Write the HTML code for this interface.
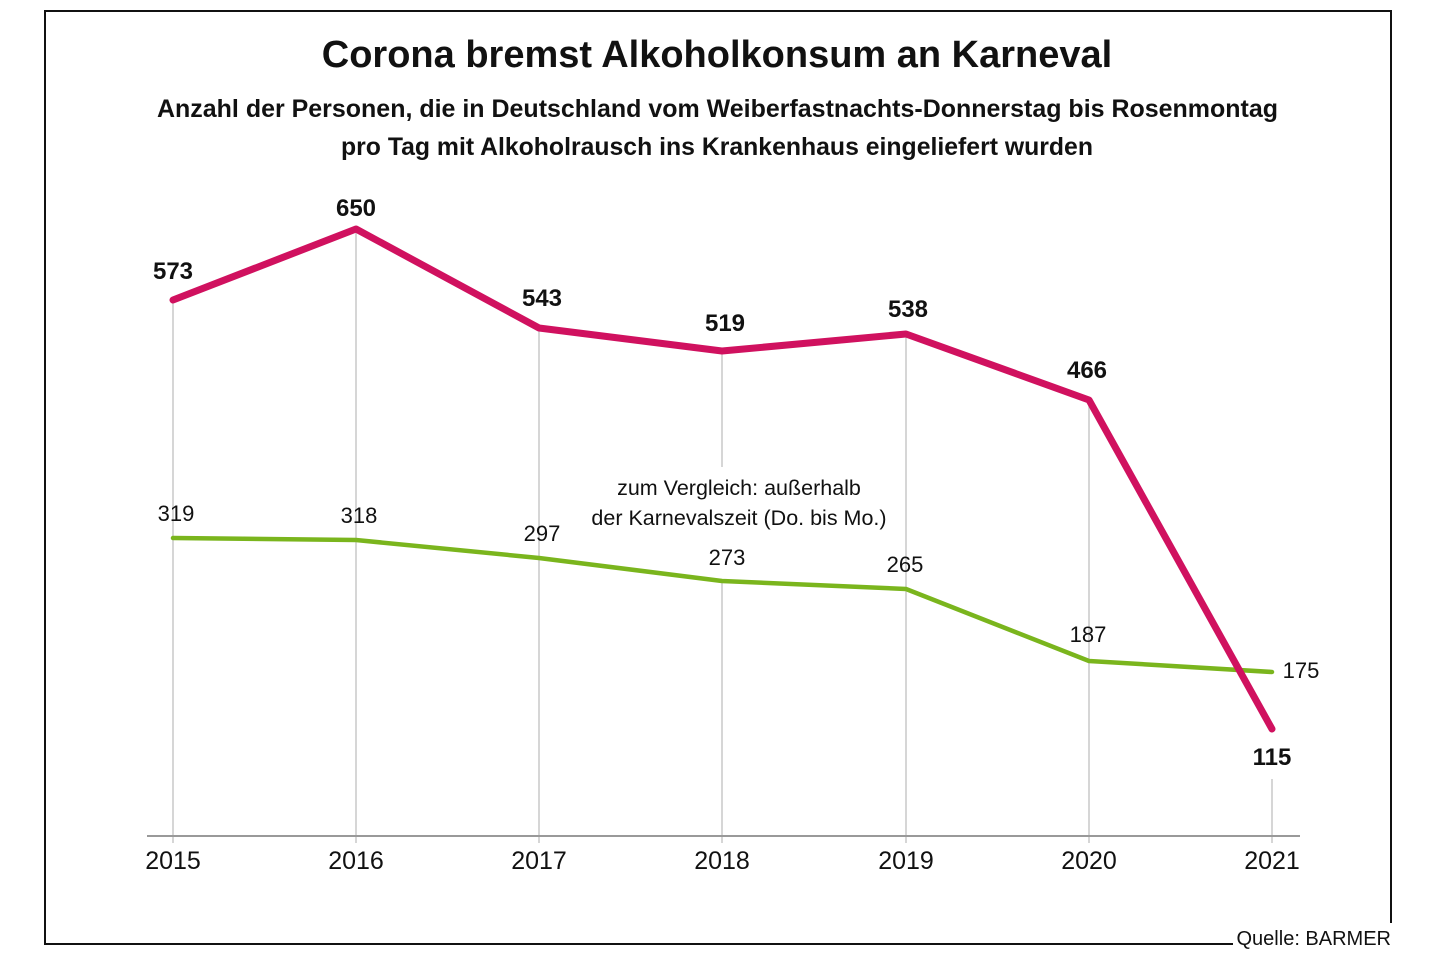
<!DOCTYPE html>
<html><head><meta charset="utf-8"><style>
body{margin:0;background:#fff;width:1440px;height:960px;overflow:hidden}
svg{display:block;font-family:"Liberation Sans",sans-serif}
</style></head><body>
<svg width="1440" height="960" viewBox="0 0 1440 960">
<rect width="1440" height="960" fill="#fff"/>
<path d="M1233 944H45V11H1391V923" fill="none" stroke="#111" stroke-width="2"/>
<text x="1391" y="945" text-anchor="end" font-size="20" fill="#111">Quelle: BARMER</text>
<text x="717" y="67" text-anchor="middle" font-size="38" font-weight="bold" fill="#111">Corona bremst Alkoholkonsum an Karneval</text>
<text x="157" y="117" textLength="1121" lengthAdjust="spacingAndGlyphs" font-size="25" font-weight="bold" fill="#111">Anzahl der Personen, die in Deutschland vom Weiberfastnachts-Donnerstag bis Rosenmontag</text>
<text x="341" y="155" textLength="752" lengthAdjust="spacingAndGlyphs" font-size="25" font-weight="bold" fill="#111">pro Tag mit Alkoholrausch ins Krankenhaus eingeliefert wurden</text>
<g stroke="#c8c8c8" stroke-width="1.5">
<line x1="173" y1="300" x2="173" y2="843"/>
<line x1="356" y1="229" x2="356" y2="843"/>
<line x1="539" y1="328" x2="539" y2="843"/>
<line x1="722" y1="351" x2="722" y2="467"/>
<line x1="722" y1="581" x2="722" y2="843"/>
<line x1="906" y1="334" x2="906" y2="843"/>
<line x1="1089" y1="400" x2="1089" y2="843"/>
<line x1="1272" y1="779" x2="1272" y2="843"/>
</g>
<line x1="147" y1="836" x2="1300" y2="836" stroke="#999" stroke-width="2"/>
<polyline points="173,538 356,540 539,558 722,581 906,589 1089,661 1272,672" fill="none" stroke="#7ab51d" stroke-width="4.5" stroke-linecap="round" stroke-linejoin="round"/>
<polyline points="173,300 356,229 539,328 722,351 906,334 1089,400 1272,729" fill="none" stroke="#d0115f" stroke-width="7" stroke-linecap="round" stroke-linejoin="round"/>
<g font-size="24" font-weight="bold" fill="#111" text-anchor="middle">
<text x="173" y="279">573</text><text x="356" y="216">650</text><text x="542" y="306">543</text>
<text x="725" y="331">519</text><text x="908" y="317">538</text><text x="1087" y="378">466</text>
<text x="1272" y="765">115</text></g>
<g font-size="22" fill="#111" text-anchor="middle">
<text x="176" y="521">319</text><text x="359" y="523">318</text><text x="542" y="541">297</text>
<text x="727" y="565">273</text><text x="905" y="572">265</text><text x="1088" y="642">187</text>
<text x="1301" y="678">175</text></g>
<g font-size="21.5" fill="#111" text-anchor="middle">
<text x="739" y="495">zum Vergleich: außerhalb</text>
<text x="739" y="525">der Karnevalszeit (Do. bis Mo.)</text></g>
<g font-size="25" fill="#111" text-anchor="middle">
<text x="173" y="869">2015</text><text x="356" y="869">2016</text><text x="539" y="869">2017</text>
<text x="722" y="869">2018</text><text x="906" y="869">2019</text><text x="1089" y="869">2020</text>
<text x="1272" y="869">2021</text></g>
</svg>
</body></html>
